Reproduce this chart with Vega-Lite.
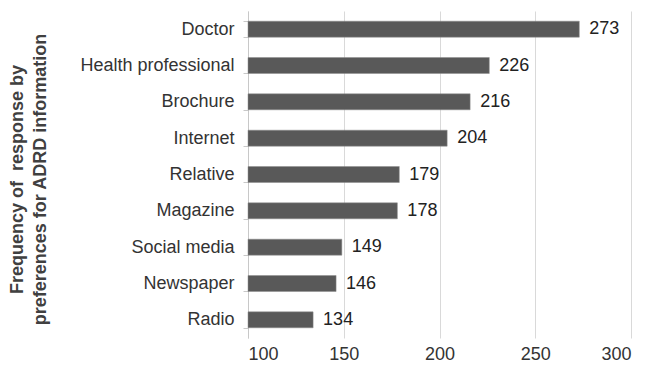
{
  "$schema": "https://vega.github.io/schema/vega-lite/v6.json",
  "width": 383,
  "height": 327,
  "autosize": "none",
  "padding": {"left": 248, "top": 11, "right": 17, "bottom": 30},
  "background": "white",
  "config": {
    "font": "Liberation Sans",
    "view": {"stroke": null}
  },
  "data": {
    "values": [
      {"source": "Doctor", "count": 273},
      {"source": "Health professional\u00a0", "count": 226},
      {"source": "Brochure", "count": 216},
      {"source": "Internet", "count": 204},
      {"source": "Relative", "count": 179},
      {"source": "Magazine", "count": 178},
      {"source": "Social media", "count": 149},
      {"source": "Newspaper", "count": 146},
      {"source": "Radio", "count": 134}
    ]
  },
  "encoding": {
    "y": {
      "field": "source",
      "type": "nominal",
      "sort": null,
      "scale": {"paddingInner": 0.56, "paddingOuter": 0.28},
      "axis": {
        "title": ["Frequency of \u00a0response by", "preferences for ADRD information"],
        "titleFontSize": 18,
        "titleFontWeight": "bold",
        "titleColor": "#404040",
        "titleLineHeight": 23,
        "titleAngle": -90,
        "titleAlign": "center",
        "titleBaseline": "top",
        "titleX": -240,
        "titleY": 168,
        "labelFontSize": 18,
        "labelColor": "#333333",
        "labelPadding": 9,
        "labelLimit": 300,
        "tickBand": "extent",
        "tickSize": 5,
        "tickColor": "#c8c8c8",
        "domainColor": "#c8c8c8",
        "grid": false
      }
    }
  },
  "layer": [
    {
      "mark": {"type": "bar", "color": "#595959", "stroke": "#8c8c8c", "strokeWidth": 0.5},
      "encoding": {
        "x": {
          "field": "count",
          "type": "quantitative",
          "scale": {"domain": [100, 300], "zero": false, "nice": false},
          "axis": {
            "title": null,
            "values": [100, 150, 200, 250, 300],
            "labelFontSize": 18,
            "labelColor": "#333333",
            "labelPadding": 7,
            "domain": false,
            "ticks": false,
            "grid": true,
            "gridColor": "#d9d9d9",
            "gridWidth": 1
          }
        },
        "x2": {"datum": 100}
      }
    },
    {
      "mark": {"type": "text", "align": "left", "baseline": "middle", "dx": 10, "fontSize": 18, "color": "#222222"},
      "encoding": {
        "x": {"field": "count", "type": "quantitative"},
        "text": {"field": "count", "type": "quantitative"}
      }
    }
  ]
}
